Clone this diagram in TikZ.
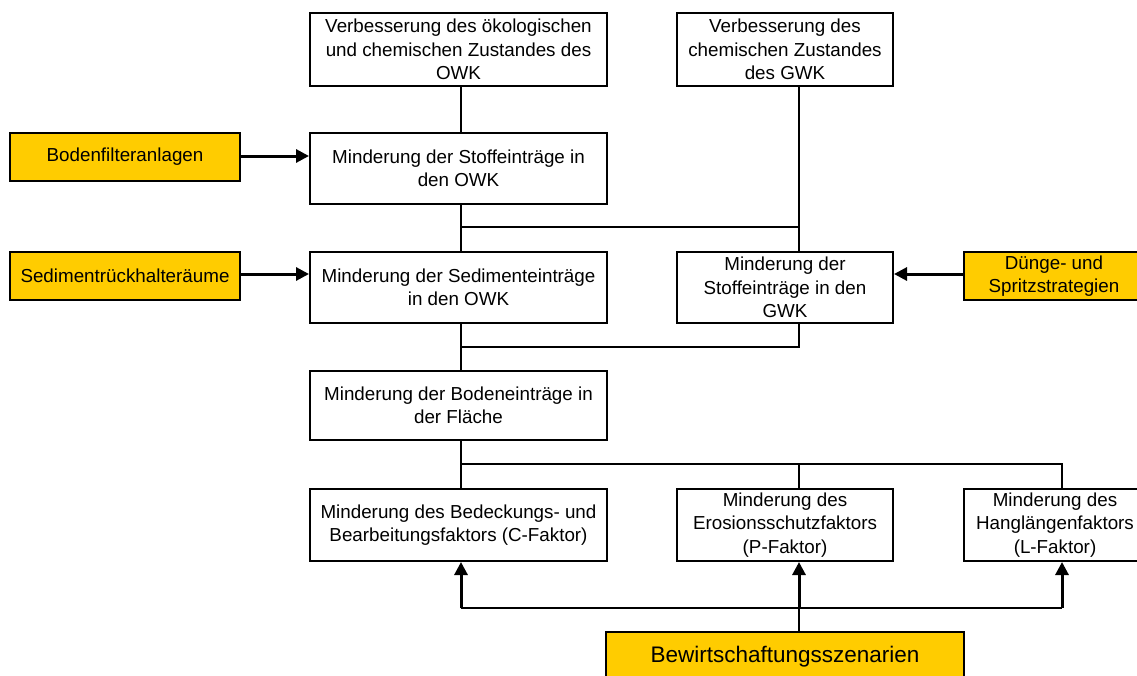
\documentclass[tikz,border=0pt]{standalone}
\usepackage{fontspec}
\setmainfont{Liberation Sans}
\usetikzlibrary{arrows.meta}
\definecolor{boxyellow}{HTML}{FFCC00}
\tikzset{
  box/.style={draw, rectangle, line width=2pt, fill=white, inner sep=0pt, align=center,
    font=\fontsize{18.8}{23.5}\selectfont},
  ybox/.style={box, fill=boxyellow},
  conn/.style={line width=1.3pt},
  arr/.style={line width=3pt, -{Triangle[length=13pt,width=13pt]}},
}
\newcommand{\bx}[7]{% style, name, x1, y1, x2, y2, text
  \node[#1, minimum width={#5-#3}, minimum height={#6-#4}] (#2) at ({(#3+#5)/2},{(#4+#6)/2}) {#7};}
\begin{document}
\begin{tikzpicture}[x=1pt,y=-1pt]
\useasboundingbox (0,0) rectangle (1137,675);
% boxes
\bx{box}{v1}{310}{13}{607}{86}{Verbesserung des ökologischen\\und chemischen Zustandes des\\OWK}
\bx{box}{v2}{677}{13}{893}{86}{Verbesserung des\\chemischen Zustandes\\des GWK}
\bx{ybox}{bf}{10}{133}{240}{181}{Bodenfilteranlagen}
\bx{box}{s1}{310}{133}{607}{204}{Minderung der Stoffeinträge in\\den OWK}
\bx{ybox}{sed}{10}{252}{240}{300}{Sedimentrückhalteräume}
\bx{box}{s2}{310}{252}{607}{323}{Minderung der Sedimenteinträge\\in den OWK}
\bx{box}{g2}{677}{252}{893}{323}{Minderung der\\Stoffeinträge in den\\GWK}
\bx{ybox}{dg}{964}{252}{1144}{300}{Dünge- und\\Spritzstrategien}
\bx{box}{b}{310}{371}{607}{440}{Minderung der Bodeneinträge in\\der Fläche}
\bx{box}{c}{310}{489}{607}{561}{Minderung des Bedeckungs- und\\Bearbeitungsfaktors (C-Faktor)}
\bx{box}{p}{677}{489}{893}{561}{Minderung des\\Erosionsschutzfaktors\\(P-Faktor)}
\bx{box}{l}{964}{489}{1146}{561}{Minderung des\\Hanglängenfaktors\\(L-Faktor)}
\node[ybox, minimum width=358, minimum height=50, font=\fontsize{22.5}{27}\selectfont] (bew) at (785,657) {Bewirtschaftungsszenarien};
% helper coordinates
\coordinate (gx) at (799,0);
\coordinate (cx) at (461,0);
\coordinate (lx) at (1062,0);
\coordinate (j1) at (0,227);
\coordinate (j2) at (0,347);
\coordinate (j3) at (0,464);
\coordinate (j4) at (0,608);
% thin connectors
\draw[conn] (v1.south -| cx) -- (s1.north -| cx);
\draw[conn] (v2.south -| gx) -- (g2.north -| gx);
\draw[conn] (s1.south -| cx) -- (s2.north -| cx);
\draw[conn] (j1 -| cx) -- (j1 -| gx);
\draw[conn] (g2.south -| gx) -- (j2 -| gx) -- (j2 -| cx);
\draw[conn] (s2.south -| cx) -- (b.north -| cx);
\draw[conn] (b.south -| cx) -- (c.north -| cx);
\draw[conn] (j3 -| cx) -- (j3 -| lx) -- (l.north -| lx);
\draw[conn] (j3 -| gx) -- (p.north -| gx);
\draw[conn] (bew.north -| gx) -- (j4 -| gx);
\draw[conn] (j4 -| cx) -- (j4 -| lx);
% bold arrows
\draw[arr] (j4 -| cx) -- (c.south -| cx);
\draw[arr] (j4 -| gx) -- (p.south -| gx);
\draw[arr] (j4 -| lx) -- (l.south -| lx);
\coordinate (a1) at (0,156);
\coordinate (a2) at (0,274);
\draw[arr] (bf.east |- a1) -- (s1.west |- a1);
\draw[arr] (sed.east |- a2) -- (s2.west |- a2);
\draw[arr] (dg.west |- a2) -- (g2.east |- a2);
\end{tikzpicture}
\end{document}
